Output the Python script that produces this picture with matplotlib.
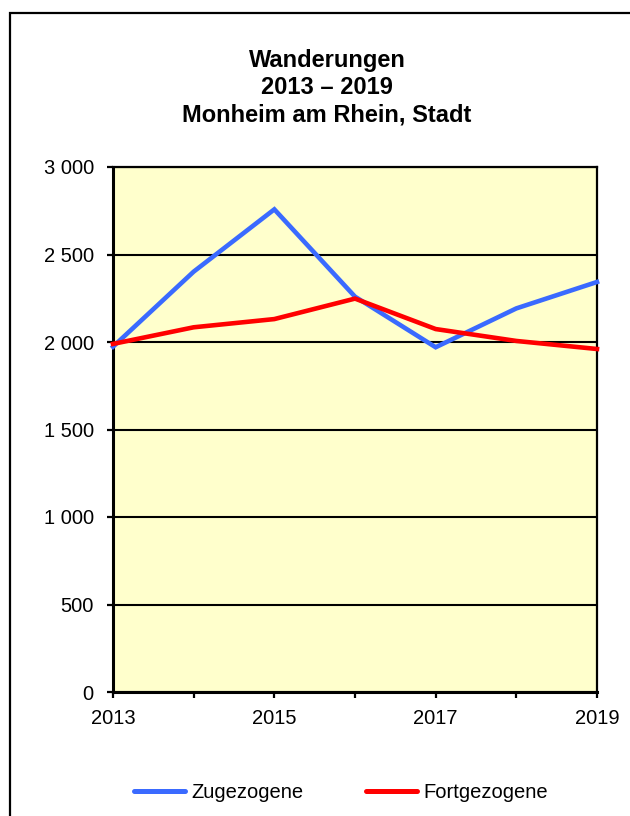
import matplotlib
matplotlib.use("Agg")
import matplotlib.pyplot as plt
from matplotlib.patches import Rectangle
from matplotlib.ticker import FuncFormatter

years = [2013, 2014, 2015, 2016, 2017, 2018, 2019]
zugezogene = [1973, 2402, 2758, 2259, 1970, 2192, 2343]
fortgezogene = [1989, 2084, 2131, 2248, 2074, 2006, 1960]
xtick_labels = ["2013", "", "2015", "", "2017", "", "2019"]
title_lines = ["Wanderungen", "2013 \u2013 2019", "Monheim am Rhein, Stadt"]

plt.rcParams['font.family'] = ['Liberation Sans', 'DejaVu Sans']

W, H = 630, 816
fig = plt.figure(figsize=(W / 100, H / 100), dpi=100)
fig.patch.set_facecolor('white')

# outer frame (right/bottom edges cut off)
fig.add_artist(Rectangle((10 / W, -0.1), 1.2, (H - 13) / H + 0.1, transform=fig.transFigure,
                         fill=False, edgecolor='black', linewidth=1.6))

ax = fig.add_axes([113 / W, 124 / H, (597 - 113) / W, (692 - 167) / H])
ax.set_facecolor('#FFFFCC')

ax.plot(years, zugezogene, color='#3A6AFF', linewidth=3.3, solid_joinstyle='miter', label='Zugezogene', clip_on=False, zorder=4)
ax.plot(years, fortgezogene, color='#FF0000', linewidth=3.3, solid_joinstyle='miter', label='Fortgezogene', clip_on=False, zorder=5)

ax.set_xlim(2013, 2019)
ax.set_ylim(0, 3000)
ax.set_xticks(years)
ax.set_xticklabels(xtick_labels)
ax.set_yticks(range(0, 3001, 500))
ax.yaxis.set_major_formatter(FuncFormatter(lambda v, p: f"{int(v):,}".replace(",", " ")))
ax.grid(axis='y', color='black', linewidth=1.5)
for name, s in ax.spines.items():
    s.set_color('black')
    s.set_linewidth(2.2 if name in ('left', 'bottom') else 1.6)
ax.tick_params(axis='both', direction='out', length=4.3, width=1.6, labelsize=14.5, colors='black')
ax.tick_params(axis='x', pad=8)
ax.tick_params(axis='y', pad=9.5)

baselines = [66.5, 94, 121.5]
for line, yb in zip(title_lines, baselines):
    fig.text(327 / W, 1 - yb / H, line, ha='center', va='baseline',
             fontsize=17, fontweight='bold')

leg = fig.legend(loc='center left', bbox_to_anchor=(134 / W, 1 - 793 / H), ncol=2, frameon=False,
                 fontsize=14.5, handlelength=2.55, handletextpad=0.3, columnspacing=3.1,
                 borderpad=0, borderaxespad=0)
for l in leg.get_lines():
    l.set_linewidth(3.6)
    l.set_solid_capstyle('round')

fig.savefig('out.png', dpi=100)
